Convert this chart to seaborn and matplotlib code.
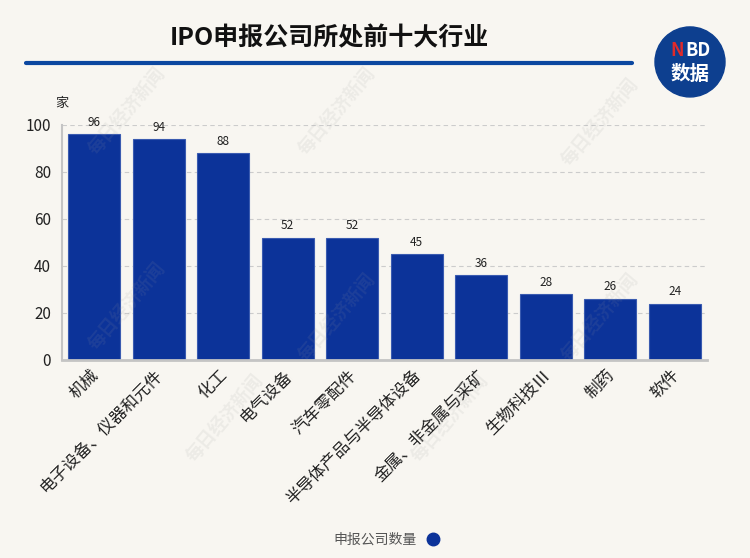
import pandas as pd
import seaborn as sns
import matplotlib.pyplot as plt
from matplotlib.patches import Circle
from matplotlib.transforms import ScaledTranslation

industries = ['机械', '电子设备、仪器和元件', '化工', '电气设备', '汽车零配件',
              '半导体产品与半导体设备', '金属、非金属与采矿', '生物科技Ⅲ', '制药', '软件']
counts = [96, 94, 88, 52, 52, 45, 36, 28, 26, 24]
yticks = [0, 20, 40, 60, 80, 100]

df = pd.DataFrame({'industry': industries, 'count': counts})

bg = '#f8f6f1'
bar_color = '#0c3399'

sns.set_theme(style='white')
plt.rcParams['font.family'] = ['Noto Sans CJK SC', 'DejaVu Sans']

fig = plt.figure(figsize=(7.5, 5.58), dpi=100, facecolor=bg)
ax = fig.add_axes([0.0827, 0.355, 0.8600, 0.421], facecolor=bg)

sns.barplot(x='industry', y='count', data=df, color=bar_color, width=0.8,
            edgecolor='#3a5bb0', linewidth=0.8, saturation=1, ax=ax)

for i, v in enumerate(counts):
    ax.text(i, v + 2.3, str(v), ha='center', va='bottom', fontsize=8.5, color='#222222')

ax.set_ylim(0, 100)
ax.set_xlim(-0.5, len(industries) - 0.5)
ax.set_yticks(yticks)
ax.tick_params(axis='y', labelsize=11, colors='#222222', length=0, pad=8)
ax.tick_params(axis='x', length=0, pad=5)
ax.set_xticks(range(len(industries)))
ax.set_xticklabels(industries, rotation=45, ha='right', rotation_mode='anchor',
                   fontsize=12, color='#222222')
# nudge the slanted labels a little to the left
shift = ScaledTranslation(-4 / 100, 0, fig.dpi_scale_trans)
for lbl in ax.get_xticklabels():
    lbl.set_transform(lbl.get_transform() + shift)
for yv in yticks[1:]:
    ax.axhline(yv, color='#cccccc', linestyle=(0, (4, 3)), linewidth=0.8, zorder=0)
ax.set_xlabel('')
ax.set_ylabel('')
sns.despine(ax=ax, top=True, right=True)
ax.spines['left'].set_color('#c4c4c4')
ax.spines['left'].set_linewidth(1.5)
ax.spines['bottom'].set_color('#c4c4c4')
ax.spines['bottom'].set_linewidth(2)

ax.text(0.0, 1.09, '家', transform=ax.transAxes, fontsize=9.5, ha='center', va='center')

# title and rule
fig.text(0.439, 0.932, 'IPO申报公司所处前十大行业', ha='center', va='center',
         fontsize=18, fontweight='bold', color='#111111')
fig.add_artist(plt.Line2D([0.034, 0.843], [0.887, 0.887], color='#0b47a0',
                          linewidth=3, transform=fig.transFigure))

# logo
logo = Circle((0.92 * 7.5, 0.889 * 5.58), 0.35, transform=fig.dpi_scale_trans,
              color='#0d3f8f', clip_on=False)
fig.add_artist(logo)
fig.text(0.903, 0.91, 'N', color='#e02a2a', fontsize=13, fontweight='bold',
         ha='center', va='center')
fig.text(0.931, 0.91, 'BD', color='white', fontsize=13, fontweight='bold',
         ha='center', va='center')
fig.text(0.92, 0.866, '数据', color='white', fontsize=14, fontweight='bold',
         ha='center', va='center')

# watermark
for wx, wy in [(0.45, 0.80), (0.8, 0.78), (0.17, 0.45), (0.45, 0.43), (0.8, 0.43),
               (0.17, 0.80), (0.30, 0.25), (0.60, 0.25)]:
    fig.text(wx, wy, '每日经济新闻', rotation=50, fontsize=13, color='#999999',
             alpha=0.12, ha='center', va='center', fontweight='bold')

# legend
handle = plt.Line2D([], [], marker='o', linestyle='', markersize=9,
                    color=bar_color)
fig.legend([handle], ['申报公司数量'], loc='center', bbox_to_anchor=(0.52, 0.033),
           frameon=False, markerfirst=False, fontsize=10, labelcolor='#555555',
           handletextpad=0.2)

fig.savefig('out.png', dpi=100, facecolor=bg)
